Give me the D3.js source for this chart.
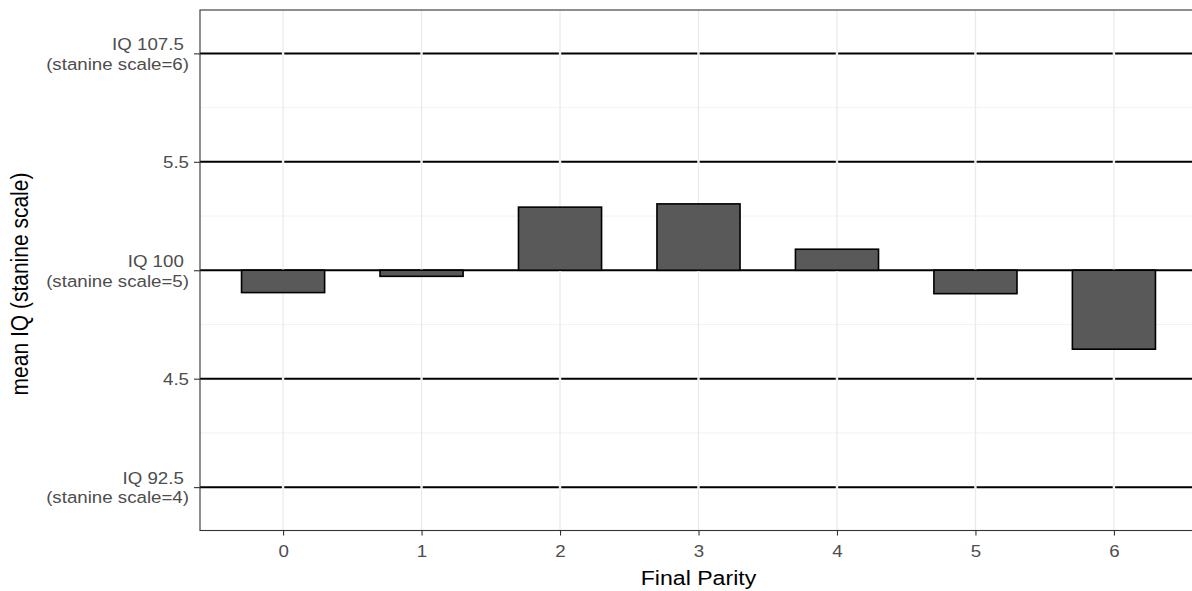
<!DOCTYPE html>
<html>
<head>
<meta charset="utf-8">
<script src="https://cdn.jsdelivr.net/npm/d3@7"></script>
<style>
  html, body { margin: 0; padding: 0; background: #fff; }
  svg { display: block; }
  text { font-family: "Liberation Sans", Arial, sans-serif; }
</style>
</head>
<body>
<svg id="chart" width="1192" height="591"></svg>
<script>
// ---- data ----
const categories = ["0", "1", "2", "3", "4", "5", "6"];
const meanIQ = [4.897, 4.972, 5.291, 5.306, 5.097, 4.892, 4.636];
const refValues = [4, 4.5, 5, 5.5, 6];
const yTickLabels = ["IQ 92.5 \n(stanine scale=4)", "4.5", "IQ 100 \n(stanine scale=5)", "5.5", "IQ 107.5 \n(stanine scale=6)"];
const minorValues = [4.25, 4.75, 5.25, 5.75];
const baseline = 5;
const xTitle = "Final Parity";
const yTitle = "mean IQ (stanine scale)";

// ---- layout ----
const svg = d3.select("#chart");
const panel = { left: 200, right: 1197, top: 10, bottom: 530.5 };
const stretch = 1.1;   // horizontal text stretch seen in the reference
const tickFont = 17;
const titleFont = 21;

const x = d3.scaleLinear().domain([-0.6, categories.length - 1 + 0.6]).range([panel.left, panel.right]);
const y = d3.scaleLinear().domain([3.8, 6.2]).range([panel.bottom, panel.top]);
const barW = 0.6;

const g = svg.append("g");

g.append("rect").attr("x", panel.left).attr("y", panel.top)
  .attr("width", panel.right - panel.left).attr("height", panel.bottom - panel.top)
  .attr("fill", "#fff");

// minor horizontal grid
g.selectAll(".minor").data(minorValues).join("line")
  .attr("x1", panel.left).attr("x2", panel.right)
  .attr("y1", d => y(d)).attr("y2", d => y(d))
  .attr("stroke", "#F2F2F2").attr("stroke-width", 1);

// major grid
g.selectAll(".majy").data(refValues).join("line")
  .attr("x1", panel.left).attr("x2", panel.right)
  .attr("y1", d => y(d)).attr("y2", d => y(d))
  .attr("stroke", "#EBEBEB").attr("stroke-width", 1.3);
g.selectAll(".majx").data(categories).join("line")
  .attr("x1", (d, i) => x(i)).attr("x2", (d, i) => x(i))
  .attr("y1", panel.top).attr("y2", panel.bottom)
  .attr("stroke", "#EBEBEB").attr("stroke-width", 1.3);

// reference lines (black), with small breaks at category grid lines
const gapHalf = 1.2;
refValues.forEach(v => {
  const xs = [panel.left].concat(categories.map((c, i) => x(i))).concat([panel.right]);
  for (let k = 0; k < xs.length - 1; k++) {
    const a = k === 0 ? xs[k] : xs[k] + gapHalf;
    const b = k === xs.length - 2 ? xs[k + 1] : xs[k + 1] - gapHalf;
    g.append("line").attr("x1", a).attr("x2", b)
      .attr("y1", y(v)).attr("y2", y(v))
      .attr("stroke", "#000").attr("stroke-width", 2);
  }
});

// bars
g.selectAll(".bar").data(meanIQ).join("rect")
  .attr("x", (d, i) => x(i - barW / 2))
  .attr("width", x(barW) - x(0))
  .attr("y", d => y(Math.max(d, baseline)))
  .attr("height", d => Math.abs(y(d) - y(baseline)))
  .attr("fill", "#595959").attr("stroke", "#000").attr("stroke-width", 1.6);

// panel border
g.append("rect").attr("x", panel.left).attr("y", panel.top)
  .attr("width", panel.right - panel.left).attr("height", panel.bottom - panel.top)
  .attr("fill", "none").attr("stroke", "#333333").attr("stroke-width", 1.1);

// y axis
const yAxis = d3.axisLeft(y).tickValues(refValues).tickSize(6).tickPadding(5).tickFormat("");
const ya = svg.append("g").attr("transform", `translate(${panel.left},0)`).call(yAxis);
ya.select(".domain").remove();
ya.selectAll(".tick line").attr("stroke", "#333333").attr("stroke-width", 1.1);
ya.selectAll(".tick").each(function(d, i) {
  const lines = yTickLabels[i].split("\n");
  const t = d3.select(this).append("g")
    .attr("transform", `translate(-11,0) scale(${stretch},1)`)
    .append("text")
    .attr("fill", "#4D4D4D")
    .attr("font-size", tickFont).attr("text-anchor", "end")
    .style("white-space", "pre");
  const lh = 19.5;
  const start = -(lines.length - 1) * lh / 2;
  lines.forEach((ln, j) => {
    t.append("tspan").attr("x", 0).attr("y", start + j * lh).attr("dy", "0.36em").text(ln);
  });
});

// x axis
const xAxis = d3.axisBottom(x).tickValues(categories.map((c, i) => i))
  .tickFormat((d) => categories[d]).tickSize(5).tickPadding(6);
const xa = svg.append("g").attr("transform", `translate(0,${panel.bottom})`).call(xAxis);
xa.select(".domain").remove();
xa.selectAll(".tick line").attr("stroke", "#333333").attr("stroke-width", 1.1);
xa.selectAll(".tick text").remove();
xa.selectAll(".tick").append("g")
  .attr("transform", `translate(0,26.5) scale(${stretch},1)`)
  .append("text")
  .attr("fill", "#4D4D4D").attr("font-size", tickFont).attr("text-anchor", "middle")
  .text(d => categories[d]);

// titles
svg.append("g")
  .attr("transform", `translate(${x(3)},585) scale(${stretch},1)`)
  .append("text")
  .attr("text-anchor", "middle").attr("font-size", titleFont).attr("fill", "#000")
  .text(xTitle);
svg.append("g")
  .attr("transform", `translate(28,284) scale(${stretch},1) rotate(-90)`)
  .append("text")
  .attr("text-anchor", "middle").attr("font-size", titleFont).attr("fill", "#000")
  .text(yTitle);
</script>
</body>
</html>
